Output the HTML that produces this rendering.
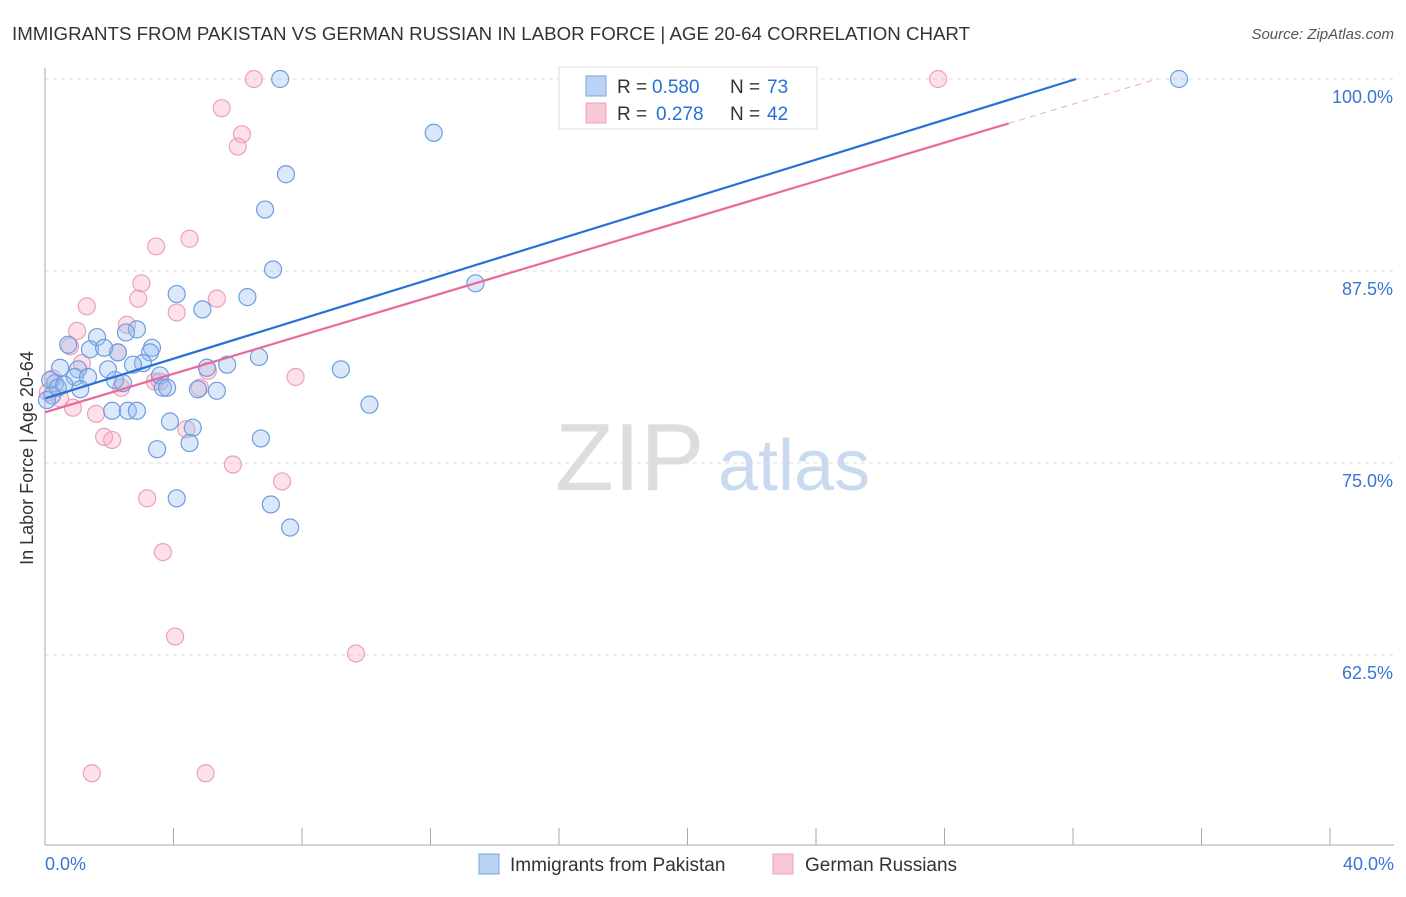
<!DOCTYPE html>
<html><head><meta charset="utf-8">
<style>
body{margin:0;background:#fff;font-family:"Liberation Sans",sans-serif;}
svg text{font-family:"Liberation Sans",sans-serif;}
</style></head>
<body>
<svg id="chart" width="1406" height="892" xmlns="http://www.w3.org/2000/svg">
<text x="12" y="40" font-size="18" fill="#333" textLength="958" lengthAdjust="spacingAndGlyphs">IMMIGRANTS FROM PAKISTAN VS GERMAN RUSSIAN IN LABOR FORCE | AGE 20-64 CORRELATION CHART</text>
<text x="1394" y="39" font-size="15" fill="#555" font-style="italic" text-anchor="end">Source: ZipAtlas.com</text>
<text x="33" y="458" font-size="18" fill="#333" text-anchor="middle" transform="rotate(-90 33 458)">In Labor Force | Age 20-64</text>
<g>
<text x="555" y="490" font-size="96" fill="#ddd" font-family="Liberation Serif">ZIP</text>
<text x="718" y="490" font-size="72" fill="#c9daf0">atlas</text>
</g>
<g id="grid"></g>
<g id="axes"></g>
<g id="pts"></g>
<g id="trend"></g>
<g>
<rect x="559" y="67" width="258" height="62" fill="#fff" stroke="#ddd"/>
<rect x="586" y="76" width="20" height="20" fill="#b9d3f5" stroke="#7aa6e0"/>
<text x="617" y="93" font-size="19" fill="#333">R = </text>
<text x="652" y="93" font-size="19" fill="#2a6fd6">0.580</text>
<text x="730" y="93" font-size="19" fill="#333">N = </text>
<text x="767" y="93" font-size="19" fill="#2a6fd6">73</text>
<rect x="586" y="103" width="20" height="20" fill="#f9c8d6" stroke="#eea0b6"/>
<text x="617" y="120" font-size="19" fill="#333">R = </text>
<text x="656" y="120" font-size="19" fill="#2a6fd6">0.278</text>
<text x="730" y="120" font-size="19" fill="#333">N = </text>
<text x="767" y="120" font-size="19" fill="#2a6fd6">42</text>
</g>
<g>
<rect x="479" y="854" width="20" height="20" fill="#b9d3f5" stroke="#7aa6e0"/>
<text x="510" y="871" font-size="19" fill="#333">Immigrants from Pakistan</text>
<rect x="773" y="854" width="20" height="20" fill="#f9c8d6" stroke="#eea0b6"/>
<text x="805" y="871" font-size="19" fill="#333">German Russians</text>
</g>
</svg>
<script>
const yTicks=[100,87.5,75,62.5];
const yTickLabels=["100.0%","87.5%","75.0%","62.5%"];
const xTickLabels=["0.0%","40.0%"];
const blueX=[7.32,16.4,35.3,12.1,7.5,6.85,7.1,13.4,4.1,6.3,4.9,2.86,2.52,1.62,0.72,3.33,3.27,2.27,1.4,1.84,6.66,5.67,5.04,3.05,2.74,9.21,0.47,1.03,1.96,0.93,1.34,2.18,2.43,3.58,3.67,3.8,4.76,5.35,0.31,0.16,0.4,1.1,0.22,10.1,2.09,2.58,2.86,3.89,4.6,4.5,6.72,3.49,4.1,7.03,7.63,0.06,0.6];
const blueY=[100,100,100,96.5,93.8,91.5,87.6,86.7,86.0,85.8,85.0,83.7,83.5,83.2,82.7,82.5,82.2,82.2,82.4,82.5,81.9,81.4,81.2,81.5,81.4,81.1,81.2,81.1,81.1,80.6,80.6,80.4,80.2,80.7,79.9,79.9,79.8,79.7,80.2,80.4,79.9,79.8,79.4,78.8,78.4,78.4,78.4,77.7,77.3,76.3,76.6,75.9,72.7,72.3,70.8,79.1,80.1];
const pinkX=[6.5,27.8,5.5,6.13,6.0,3.46,4.5,3.0,2.9,1.3,5.35,4.1,2.55,1.0,0.78,2.27,1.15,5.07,7.8,3.42,3.58,2.37,4.82,0.25,0.09,0.87,1.59,4.4,1.84,2.09,5.85,7.38,3.18,3.67,4.05,9.68,1.46,5.0,0.47];
const pinkY=[100,100,98.1,96.4,95.6,89.1,89.6,86.7,85.7,85.2,85.7,84.8,84.0,83.6,82.6,82.2,81.5,81.0,80.6,80.3,80.3,79.9,79.9,80.5,79.6,78.6,78.2,77.2,76.7,76.5,74.9,73.8,72.7,69.2,63.7,62.6,54.8,54.8,79.2];
const blueTrend=[79.2,0.648];
const pinkTrend=[78.3,0.627];
const NS="http://www.w3.org/2000/svg";
const xs=v=>45+v*32.125;
const ys=v=>79+(100-v)*15.36;
function mk(t,a,p){const e=document.createElementNS(NS,t);for(const k in a)e.setAttribute(k,a[k]);document.getElementById(p).appendChild(e);return e;}
yTicks.forEach((t,i)=>{
 const l=mk('line',{x1:45,x2:1394,y1:ys(t),y2:ys(t),stroke:'#ddd','stroke-dasharray':'4,4'},'grid');
 
 
 const tx=mk('text',{x:1393,y:ys(t)+24,'font-size':18,fill:'#3b74d4','text-anchor':'end'},'grid');
 tx.textContent=yTickLabels[i];
 
 
});
let ax=mk('line',{x1:45,x2:45,y1:68,y2:845,stroke:'#aaa'},'axes');


ax=mk('line',{x1:45,x2:1394,y1:845,y2:845,stroke:'#aaa'},'axes');


for(let i=0;i<=10;i++){const t=mk('line',{x1:xs(i*4),x2:xs(i*4),y1:828,y2:845,stroke:'#aaa'},'axes');
 
 }
[[0,45,'start'],[40,1394,'end']].forEach((d,i)=>{const t=mk('text',{x:d[1],y:870,'font-size':18,fill:'#3b74d4','text-anchor':d[2]},'axes');t.textContent=xTickLabels[i];
 
 });
pinkX.forEach((x,i)=>{const c=mk('circle',{cx:xs(x),cy:ys(pinkY[i]),r:8.5,fill:'rgba(246,170,194,0.35)',stroke:'#eea0b6','stroke-width':1.2},'pts');
 
 });
blueX.forEach((x,i)=>{const c=mk('circle',{cx:xs(x),cy:ys(blueY[i]),r:8.5,fill:'rgba(150,190,240,0.35)',stroke:'#6d9de0','stroke-width':1.2},'pts');
 
 });
function trend(tr,col,solidEnd,name){
 const xe=(100-tr[0])/tr[1];
 const l=mk('line',{x1:xs(0),y1:ys(tr[0]),x2:xs(Math.min(solidEnd,xe)),y2:ys(tr[0]+tr[1]*Math.min(solidEnd,xe)),stroke:col,'stroke-width':2.2},'trend');
 
 
 if(solidEnd<xe){const d=mk('line',{x1:xs(solidEnd),y1:ys(tr[0]+tr[1]*solidEnd),x2:xs(xe),y2:ys(100),stroke:col,'stroke-width':1,'stroke-dasharray':'6,5',opacity:0.6},'trend');
 
 }
}
trend(blueTrend,'#2a6fd6',40,'pakistan-trend-line');
trend(pinkTrend,'#e8699a',30,'german-russian-trend-line');
</script>
</body></html>
